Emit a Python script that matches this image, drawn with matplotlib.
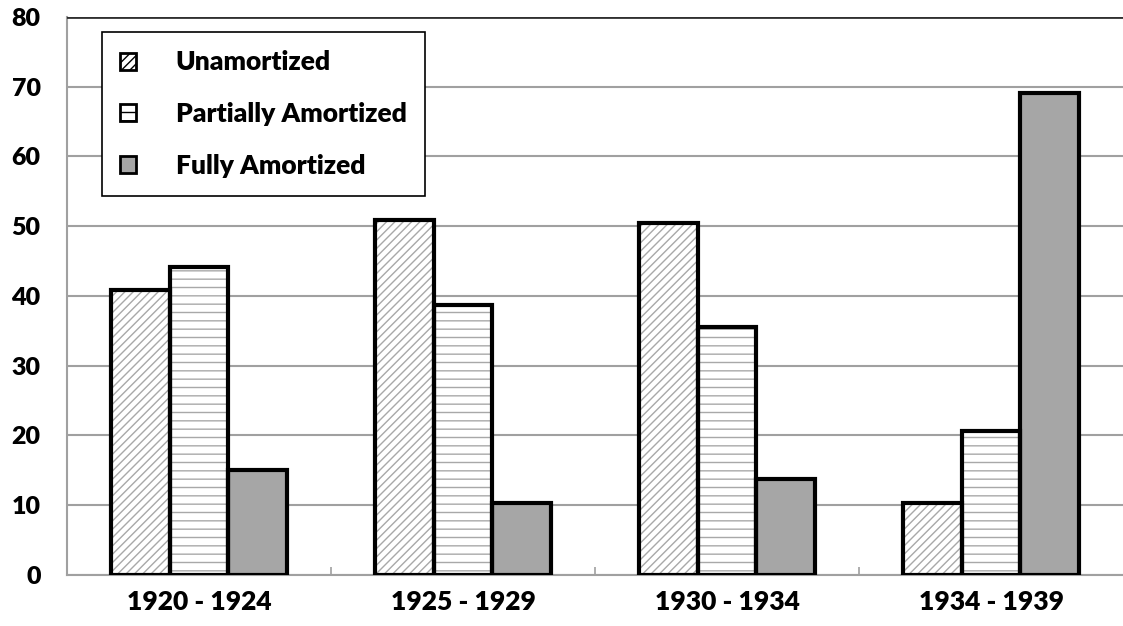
import numpy as np
import matplotlib
matplotlib.use('Agg')
import matplotlib.pyplot as plt
from matplotlib.patches import Patch

plt.rcParams['font.family'] = ['Lato', 'DejaVu Sans']
plt.rcParams['font.weight'] = 'heavy'
plt.rcParams['hatch.linewidth'] = 1.0

periods = ['1920 - 1924', '1925 - 1929', '1930 - 1934', '1934 - 1939']
unamortized = [40.9, 50.9, 50.4, 10.3]
partially = [44.1, 38.7, 35.5, 20.6]
fully = [15.0, 10.3, 13.8, 69.1]

series = [
    ('Unamortized', unamortized, 'white', '////'),
    ('Partially Amortized', partially, 'white', '--'),
    ('Fully Amortized', fully, '#a6a6a6', None),
]

fig = plt.figure(figsize=(11.23, 6.26), dpi=100)
ax = fig.add_axes([0.0597, 0.0815, 0.9403, 0.8915])

x = np.arange(len(periods))
w = 0.223
grid_col = '#a0a0a0'

for i, (name, vals, fc, hatch) in enumerate(series):
    pos = x + (i - 1) * w
    # hatch layer in grey, then black outline on top
    ax.bar(pos, vals, w, color=fc, edgecolor='#a8a8a8', hatch=hatch,
           linewidth=0, zorder=3)
    ax.bar(pos, vals, w, fill=False, edgecolor='black', linewidth=3,
           zorder=4)

ax.set_xlim(-0.5, 3.5)
ax.set_ylim(0, 80)
ax.set_yticks(range(0, 81, 10))
ax.set_xticks(x)
ax.set_xticklabels(periods, fontsize=19, fontweight='heavy')
ax.set_xticks([0.5, 1.5, 2.5], minor=True)
ax.tick_params(axis='x', which='major', length=0, pad=11)
ax.tick_params(axis='x', which='minor', direction='in', length=6,
               color=grid_col, width=1.2)
ax.tick_params(axis='y', length=0, pad=19, labelsize=18)
for lab in ax.get_yticklabels():
    lab.set_fontweight('heavy')

ax.yaxis.grid(True, color=grid_col, linewidth=1.5, zorder=0)
ax.set_axisbelow(True)
ax.axhline(80, color='#303030', linewidth=2, zorder=5)

for s in ['top', 'right']:
    ax.spines[s].set_visible(False)
for s in ['left', 'bottom']:
    ax.spines[s].set_color(grid_col)
    ax.spines[s].set_linewidth(1.5)

handles = [Patch(facecolor=fc, edgecolor='black', hatch=h, linewidth=2,
                 label=name) for name, _, fc, h in series]
leg = ax.legend(handles=handles, loc='upper left',
                bbox_to_anchor=(0.033, 0.973),
                handlelength=0.6, handleheight=0.6, handletextpad=1.5,
                labelspacing=1.05, borderpad=0.7, borderaxespad=0,
                fancybox=False, framealpha=1, edgecolor='black',
                prop={'weight': 'heavy', 'size': 19})
leg.get_frame().set_linewidth(1.2)
leg.set_zorder(6)

fig.savefig('out.png', dpi=100)
